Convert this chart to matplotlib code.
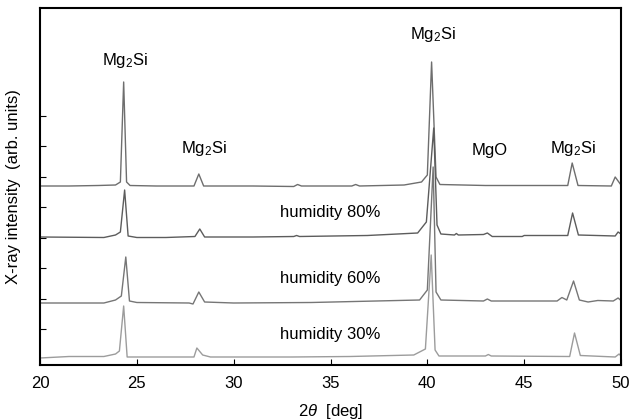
import numpy as np
import matplotlib
matplotlib.use("Agg")
import matplotlib.pyplot as plt

plt.rcParams["font.family"] = ["Liberation Sans", "DejaVu Sans"]
plt.rcParams["mathtext.fontset"] = "custom"
plt.rcParams["mathtext.rm"] = "Liberation Sans"
plt.rcParams["mathtext.it"] = "Liberation Sans:italic"

# 2theta [deg] and intensity above baseline (arb. units)
# top pattern (no label)
tt_top = [20.0, 21.5, 23.0, 23.9, 24.15, 24.32, 24.47, 24.65, 26.0, 27.95, 28.2, 28.45,
          31.0, 33.1, 33.3, 33.5, 36.1, 36.3, 36.5, 38.8, 39.7, 40.0, 40.22, 40.45,
          40.65, 43.0, 47.25, 47.48, 47.78, 49.5, 49.7, 50.0]
i_top = [0, 0, 0.5, 1, 4, 104, 4, 0.5, 0, 0, 12, 0,
         0, -0.5, 1.5, 0, 0, 1.5, 0, 1, 4, 11, 124, 9,
         1.5, 0.5, 0.5, 23, 0.5, 0, 9, 1]

# humidity 80%
tt_80 = [20.0, 23.3, 23.9, 24.15, 24.37, 24.55, 25.0, 26.5, 28.0, 28.25, 28.5, 31.0,
         33.1, 33.25, 33.4, 36.9, 39.5, 39.95, 40.33, 40.5, 40.7, 41.4, 41.5, 41.6,
         42.9, 43.1, 43.35, 44.9, 45.0, 47.25, 47.5, 47.8, 49.7, 49.85, 50.0]
i_80 = [0, -0.5, 2, 5, 47, 1, -0.5, -0.5, 0.5, 8, 0, 0,
        0.5, 1.5, 0.5, 1.5, 4, 15, 109, 12, 3, 2, 3.5, 2,
        2.5, 4, 0.5, 0.5, 1.5, 1.5, 24, 2, 1, 5, 3]

# humidity 60%
tt_60 = [20.0, 23.3, 23.9, 24.2, 24.43, 24.62, 25.0, 27.7, 27.9, 28.2, 28.5, 30.0,
         34.0, 39.6, 40.0, 40.3, 40.45, 40.7, 42.9, 43.1, 43.3, 46.7, 46.95, 47.2,
         47.55, 47.85, 48.3, 48.8, 49.6, 49.85, 50.0]
i_60 = [-1, -1, 2, 6, 45, 1, -0.5, -1, -2, 10, 0, -1,
        -0.5, 2, 12, 135, 10, 2, 1, 3, 1, 1, 4.5, 2,
        21, 2, 0, 1.5, 1, 4, 1.5]

# humidity 30%
tt_30 = [20.0, 21.5, 23.3, 23.9, 24.1, 24.32, 24.5, 25.0, 27.95, 28.1, 28.4, 28.8,
         33.0, 36.0, 39.3, 39.9, 40.2, 40.4, 40.6, 43.0, 43.15, 43.3, 47.35, 47.6,
         47.9, 49.7, 49.9, 50.0]
i_30 = [-1, 0.5, 0.5, 3, 6, 51, 0, 0, 0, 9, 2, 0,
        0, 0.5, 2, 8, 102, 7, 1, 1, 2.5, 1, 0.5, 24,
        1.5, 0, 3, 1]

offsets = [179, 128, 63, 8]
colors = ["#6e6e6e", "#5c5c5c", "#767676", "#9c9c9c"]
patterns = [(tt_top, i_top), (tt_80, i_80), (tt_60, i_60), (tt_30, i_30)]

peak_labels = ["Mg$_2$Si", "Mg$_2$Si", "Mg$_2$Si", "MgO", "Mg$_2$Si"]
peak_x = [24.4, 28.45, 40.3, 43.2, 47.5]
peak_y = [305, 217, 330, 215, 217]

humidity_labels = ["humidity 80%", "humidity 60%", "humidity 30%"]
humidity_y = [152, 87, 31]

fig = plt.figure(figsize=(6.29, 4.20), dpi=100)
ax = fig.add_axes((40 / 629, 55 / 420, 581 / 629, 357 / 420))

for (tt, inten), off, c in zip(patterns, offsets, colors):
    ax.plot(tt, np.array(inten) + off, color=c, linewidth=1.0)

for lab, x, y in zip(peak_labels, peak_x, peak_y):
    ax.text(x, y, lab, ha="center", va="center", fontsize=12)

for lab, y in zip(humidity_labels, humidity_y):
    ax.text(35.0, y, lab, ha="center", va="center", fontsize=12)

ax.set_xlim(20, 50)
ax.set_ylim(0, 357)
ax.set_xticks([20, 25, 30, 35, 40, 45, 50])
ax.set_yticks(np.arange(36, 251, 30.5))
ax.set_yticklabels([])
ax.tick_params(axis="x", direction="in", length=4, width=0.8, labelsize=12, pad=8,
               top=False)
ax.tick_params(axis="y", direction="in", length=4.5, width=0.8, right=False)
for sp in ax.spines.values():
    sp.set_linewidth(1.5)

ax.set_xlabel(r"2$\it{\theta}$  [deg]", fontsize=12, labelpad=8)
ax.set_ylabel("X-ray intensity  (arb. units)", fontsize=12, labelpad=10)

fig.savefig("out.png", dpi=100)
